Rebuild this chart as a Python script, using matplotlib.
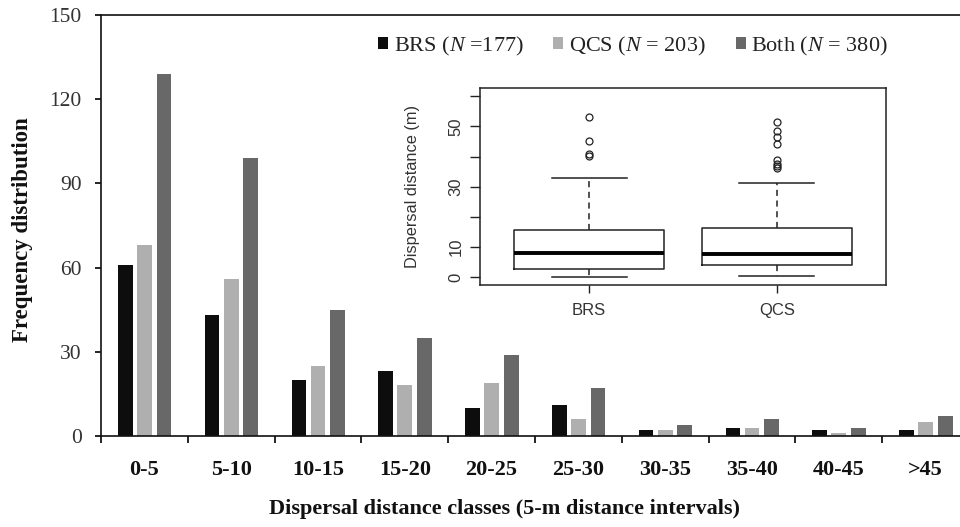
import matplotlib
matplotlib.use("Agg")
import matplotlib.pyplot as plt
import numpy as np

plt.rcParams['mathtext.fontset'] = 'custom'
plt.rcParams['mathtext.rm'] = 'Liberation Serif'
plt.rcParams['mathtext.it'] = 'Liberation Serif:italic'

# ---------------- data ----------------
categories = ['0-5', '5-10', '10-15', '15-20', '20-25', '25-30',
              '30-35', '35-40', '40-45', '>45']
brs = [61, 43, 20, 23, 10, 11, 2, 3, 2, 2]
qcs = [68, 56, 25, 18, 19, 6, 2, 3, 1, 5]
both = [129, 99, 45, 35, 29, 17, 4, 6, 3, 7]
series_labels = ['BRS ($N$ =177)', 'QCS ($N$ = 203)', 'Both ($N$ = 380)']
y_ticks = [0, 30, 60, 90, 120, 150]

# inset boxplot summary (m)
box_groups = ['BRS', 'QCS']
box_whislo = [0.3, 0.5]
box_q1 = [2.7, 4.1]
box_med = [8.1, 7.8]
box_q3 = [15.8, 16.2]
box_whishi = [32.9, 31.4]
brs_fliers = [40.2, 41.0, 45.1, 53.0]
qcs_fliers = [36.1, 36.9, 37.7, 38.8, 44.0, 46.6, 48.4, 51.5]
inset_ticks = [0, 10, 20, 30, 40, 50, 60]
inset_ticklabels = ['0', '10', '', '30', '', '50', '']

# ---------------- figure ----------------
W, H = 960, 527
fig = plt.figure(figsize=(W / 100, H / 100), dpi=100)
serif = 'Liberation Serif'
sans = 'Liberation Sans'

ax = fig.add_axes([101 / W, (H - 436) / H, 868 / W, 421 / H])
x = np.arange(len(categories))
bw = 0.17
cols = ['#0d0d0d', '#afafaf', '#686868']
b1 = ax.bar(x - 0.22, brs, bw, color=cols[0], label=series_labels[0])
b2 = ax.bar(x, qcs, bw, color=cols[1], label=series_labels[1])
b3 = ax.bar(x + 0.225, both, bw, color=cols[2], label=series_labels[2])

ax.set_xlim(-0.5, len(categories) - 0.5)
ax.set_ylim(0, 150)
ax.set_yticks(y_ticks)
ax.set_yticklabels([str(v) for v in y_ticks], fontfamily=serif,
                   fontsize=15.5, color='#333333')
ax.tick_params(axis='y', direction='out', length=4, width=1.2, pad=10)
ax.set_xticks(x)
ax.set_xticklabels(categories, fontfamily=serif, fontsize=16,
                   fontweight='bold', color='#111111')
ax.tick_params(axis='x', which='major', length=0, pad=17)
ax.set_xticks(np.arange(-0.5, len(categories) - 0.4, 1.0), minor=True)
ax.tick_params(axis='x', which='minor', direction='out', length=5, width=1.2)
for s in ['left', 'bottom', 'top']:
    ax.spines[s].set_linewidth(1.2)
    ax.spines[s].set_color('#111111')
ax.spines['right'].set_visible(False)

fig.text(23 / W, 1 - 230 / H, 'Frequency distribution', rotation=90,
         ha='center', va='center', fontfamily=serif, fontsize=16.5,
         fontweight='bold', color='#111111')
fig.text(505 / W, 1 - 509 / H,
         'Dispersal distance classes (5-m distance intervals)',
         ha='center', va='center', fontfamily=serif, fontsize=16,
         fontweight='bold', color='#111111')

leg = fig.legend(handles=[b1, b2, b3], loc='center left',
                 bbox_to_anchor=(378 / W, 1 - 46 / H), ncol=3, frameon=False,
                 handlelength=0.45, handleheight=0.45, handletextpad=0.25,
                 columnspacing=1.35, borderpad=0, borderaxespad=0,
                 prop={'family': serif, 'size': 16})
for t in leg.get_texts():
    t.set_color('#222222')

# ---------------- inset ----------------
iax = fig.add_axes([480 / W, (H - 285) / H, 406 / W, (285 - 88.3) / H])
stats = []
fliers = [brs_fliers, qcs_fliers]
for i, g in enumerate(box_groups):
    stats.append(dict(label=g, whislo=box_whislo[i], q1=box_q1[i],
                      med=box_med[i], q3=box_q3[i], whishi=box_whishi[i],
                      fliers=fliers[i]))
lc = '#222222'
iax.bxp(stats, positions=[1, 2], widths=0.8, capwidths=0.4,
        boxprops=dict(color=lc, linewidth=1.1),
        medianprops=dict(color='black', linewidth=2.8),
        whiskerprops=dict(color=lc, linewidth=1.1, linestyle=(0, (4, 3))),
        capprops=dict(color=lc, linewidth=1.1),
        flierprops=dict(marker='o', markersize=5, markerfacecolor='none',
                        markeredgecolor=lc, markeredgewidth=0.9))
iax.set_xlim(0.419, 2.582)
iax.set_ylim(-2.5, 62.6)
iax.set_yticks(inset_ticks)
iax.set_yticklabels(inset_ticklabels, rotation=90, va='center',
                    fontfamily=sans, fontsize=12, color='#333333')
iax.set_xticks([1, 2])
iax.set_xticklabels(box_groups, fontfamily=sans, fontsize=12,
                    color='#333333')
iax.tick_params(axis='y', direction='out', length=7, width=1, pad=5,
                color=lc)
iax.tick_params(axis='x', direction='out', length=6, width=1, pad=7,
                color=lc)
for s in iax.spines.values():
    s.set_linewidth(1.1)
    s.set_color(lc)
fig.text(413 / W, 1 - 186 / H, 'Dispersal distance (m)', rotation=90,
         ha='center', va='center', fontfamily=sans, fontsize=11.8,
         color='#333333')

fig.savefig('out.png', dpi=100)
